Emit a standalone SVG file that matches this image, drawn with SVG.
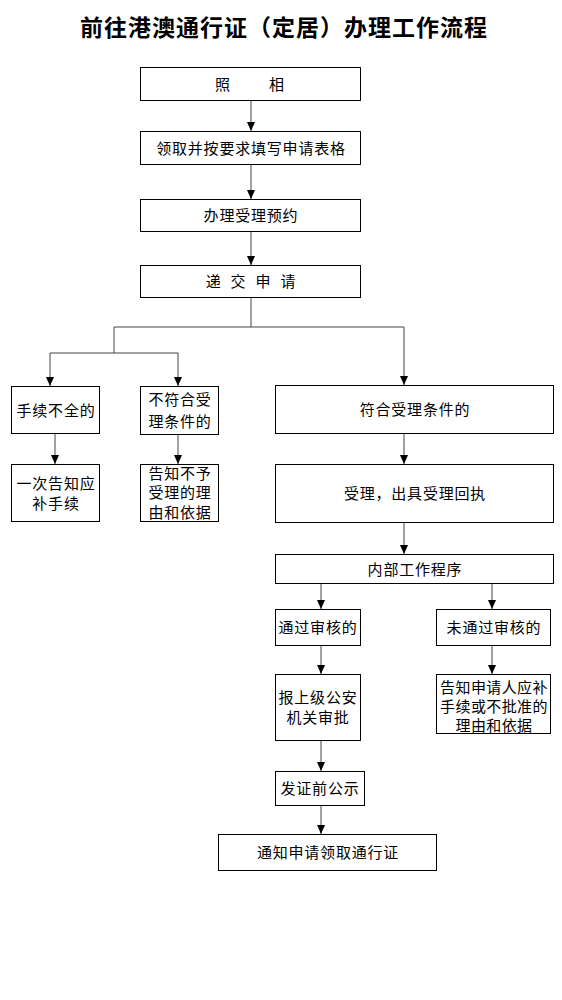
<svg xmlns="http://www.w3.org/2000/svg" width="562" height="1000" viewBox="0 0 562 1000">
<style>
.bx{fill:#fff;stroke:#000;stroke-width:1}
.t{font-family:"Noto Sans CJK SC","Noto Sans",sans-serif;font-size:15px;letter-spacing:0.8px;text-anchor:middle;fill:#000}
.ttl{font-family:"Noto Sans CJK SC","Noto Sans",sans-serif;font-size:23px;font-weight:700;letter-spacing:1px;text-anchor:middle;fill:#000}
.c{fill:none;stroke:#444;stroke-width:1}
.a{marker-end:url(#ah)}
</style>
<defs>
<marker id="ah" markerWidth="9" markerHeight="8" refX="9" refY="4" orient="auto" markerUnits="userSpaceOnUse" viewBox="0 0 9 8">
<path d="M0,0 L9,4 L0,8 Z" fill="#000"/>
</marker>
</defs>
<rect width="562" height="1000" fill="#fff"/>
<text class="ttl" x="284" y="36">前往港澳通行证（定居）办理工作流程</text>
<g id="connectors">
<path class="c a" d="M251,101 V131"/>
<path class="c a" d="M251,165 V199"/>
<path class="c a" d="M251,232 V265"/>
<path class="c" d="M251,298 V327 M114,327 H404 M114,327 V353 M50,353 H178"/>
<path class="c a" d="M50,353 V386"/>
<path class="c a" d="M178,353 V386"/>
<path class="c a" d="M404,327 V385"/>
<path class="c a" d="M55,434 V464"/>
<path class="c a" d="M178,435 V464"/>
<path class="c a" d="M404,434 V464"/>
<path class="c a" d="M404,523 V554"/>
<path class="c a" d="M321,584 V609"/>
<path class="c a" d="M492,584 V609"/>
<path class="c a" d="M321,646 V674"/>
<path class="c a" d="M492,646 V674"/>
<path class="c a" d="M321,741 V771"/>
<path class="c a" d="M321,806 V834"/>
</g>
<g id="n1"><rect class="bx" x="140.5" y="67.5" width="220" height="33"/><text class="t" x="251" y="90" style="letter-spacing:3px">照　　相</text></g>
<g id="n2"><rect class="bx" x="140.5" y="131.5" width="220" height="33"/><text class="t" x="251" y="154">领取并按要求填写申请表格</text></g>
<g id="n3"><rect class="bx" x="140.5" y="199.5" width="220" height="32"/><text class="t" x="251" y="221">办理受理预约</text></g>
<g id="n4"><rect class="bx" x="140.5" y="265.5" width="220" height="32"/><text class="t" x="251" y="287" style="word-spacing:5px">递 交 申 请</text></g>
<g id="n5"><rect class="bx" x="11.5" y="386.5" width="88" height="47"/><text class="t" x="56" y="416">手续不全的</text></g>
<g id="n6"><rect class="bx" x="140.5" y="386.5" width="78" height="48"/><text class="t" x="180" y="405">不符合受</text><text class="t" x="180" y="427">理条件的</text></g>
<g id="n7"><rect class="bx" x="275.5" y="385.5" width="278" height="48"/><text class="t" x="415" y="415">符合受理条件的</text></g>
<g id="n8"><rect class="bx" x="11.5" y="464.5" width="88" height="57"/><text class="t" x="56" y="489">一次告知应</text><text class="t" x="56" y="509">补手续</text></g>
<g id="n9"><rect class="bx" x="140.5" y="464.5" width="78" height="57"/><text class="t" x="180" y="479">告知不予</text><text class="t" x="180" y="498">受理的理</text><text class="t" x="180" y="518">由和依据</text></g>
<g id="n10"><rect class="bx" x="275.5" y="464.5" width="278" height="58"/><text class="t" x="415" y="499">受理，出具受理回执</text></g>
<g id="n11"><rect class="bx" x="275.5" y="554.5" width="278" height="29"/><text class="t" x="415" y="575">内部工作程序</text></g>
<g id="n12"><rect class="bx" x="275.5" y="609.5" width="85" height="36"/><text class="t" x="318" y="633">通过审核的</text></g>
<g id="n13"><rect class="bx" x="436.5" y="609.5" width="114" height="36"/><text class="t" x="494" y="633">未通过审核的</text></g>
<g id="n14"><rect class="bx" x="275.5" y="674.5" width="85" height="66"/><text class="t" x="318" y="703">报上级公安</text><text class="t" x="318" y="723">机关审批</text></g>
<g id="n15"><rect class="bx" x="436.5" y="674.5" width="114" height="59"/><text class="t" x="494" y="693" style="letter-spacing:0.4px">告知申请人应补</text><text class="t" x="494" y="712" style="letter-spacing:0.4px">手续或不批准的</text><text class="t" x="494" y="731" style="letter-spacing:0.4px">理由和依据</text></g>
<g id="n16"><rect class="bx" x="275.5" y="771.5" width="89" height="34"/><text class="t" x="320" y="794">发证前公示</text></g>
<g id="n17"><rect class="bx" x="218.5" y="834.5" width="218" height="36"/><text class="t" x="328" y="858">通知申请领取通行证</text></g>
</svg>
